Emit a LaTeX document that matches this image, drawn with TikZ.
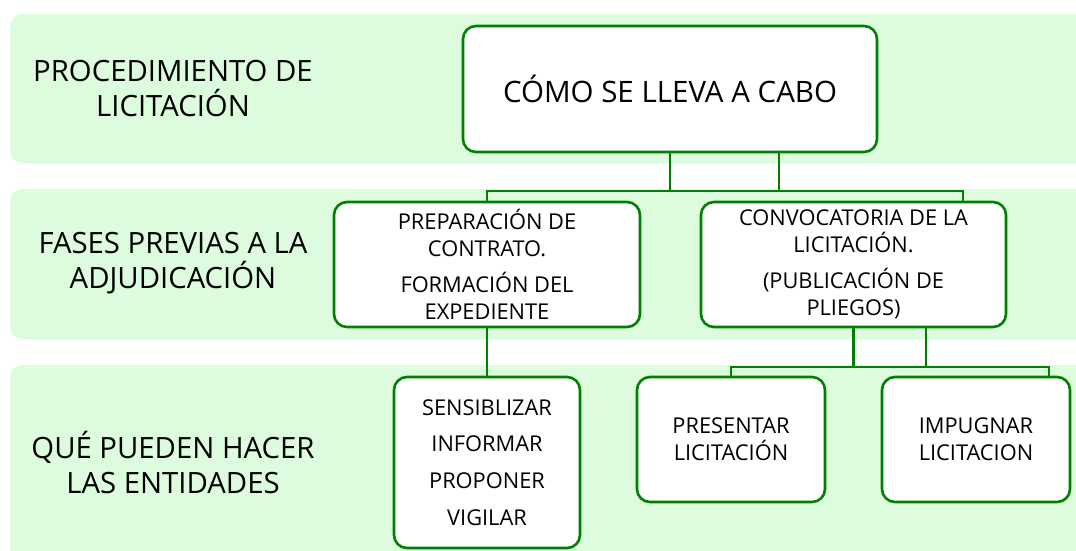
\documentclass[tikz,border=0pt]{standalone}
\usepackage{fontspec}
\setmainfont{Open Sans}
\usetikzlibrary{calc}
\definecolor{bandfill}{RGB}{221,252,221}
\definecolor{linegreen}{RGB}{0,128,0}
\tikzset{
  band/.style={fill=bandfill, draw=none, rounded corners=12pt},
  box/.style={draw=linegreen, line width=2.6pt, fill=white, rounded corners=13pt, align=center, inner sep=0pt},
  conn/.style={draw=linegreen, line width=2.6pt},
  lab/.style={align=center, font=\fontsize{29.3}{35}\selectfont, inner sep=0pt},
  boxtext/.style={font=\fontsize{21.8}{27}\selectfont}
}
\begin{document}
\begin{tikzpicture}[x=1pt,y=-1pt]
\useasboundingbox (0,0) rectangle (1076,550);
\begin{scope}
\clip (0,0) rectangle (1076,550);
\path[band] (10,14) rectangle (1100,163);
\path[band] (10,189) rectangle (1100,339);
\path[band] (10,365) rectangle (1100,562);
\end{scope}
% left labels
\node[lab] (l1) at (173,89) {PROCEDIMIENTO DE\\LICITACIÓN};
\node[lab] (l2) at (173,263) {FASES PREVIAS A LA\\ADJUDICACIÓN};
\node[lab] (l3) at (173,462) {QUÉ PUEDEN HACER\\LAS ENTIDADES};
% boxes
\node[box, minimum width=414pt, minimum height=126pt, font=\fontsize{29.5}{38}\selectfont] (top) at (670,89) {CÓMO SE LLEVA A CABO};
\node[box, boxtext, minimum width=306pt, minimum height=125pt] (prep) at (487,264.5) {PREPARACIÓN DE\\CONTRATO.\\[9pt]FORMACIÓN DEL\\EXPEDIENTE};
\node[box, boxtext, minimum width=305pt, minimum height=125pt] (conv) at (853.5,264.5) {CONVOCATORIA DE LA\\LICITACIÓN.\\[9pt](PUBLICACIÓN DE\\PLIEGOS)};
\node[box, minimum width=186pt, minimum height=171pt, font=\fontsize{21.8}{36.6}\selectfont] (ent) at (487,462.5) {SENSIBLIZAR\\INFORMAR\\PROPONER\\VIGILAR};
\node[box, boxtext, minimum width=188pt, minimum height=125pt] (pres) at (731,439.5) {PRESENTAR\\LICITACIÓN};
\node[box, boxtext, minimum width=188pt, minimum height=125pt] (imp) at (976,439.5) {IMPUGNAR\\LICITACION};
% connectors
\coordinate (j1) at (0,191);
\coordinate (j2) at (0,367);
\draw[conn] (top.south) -- (top.south |- j1) -| ([xshift=109.5pt]conv.north);
\draw[conn] ([xshift=109pt]top.south) -- ([xshift=109pt]top.south |- j1) -| (prep.north);
\draw[conn] (prep.south) -- (ent.north);
\draw[conn] ([xshift=72.5pt]conv.south) -- ([xshift=72.5pt]conv.south |- j2) -| (pres.north);
\draw[conn] (conv.south) -- (conv.south |- j2) -| ([xshift=73pt]imp.north);
\end{tikzpicture}
\end{document}
